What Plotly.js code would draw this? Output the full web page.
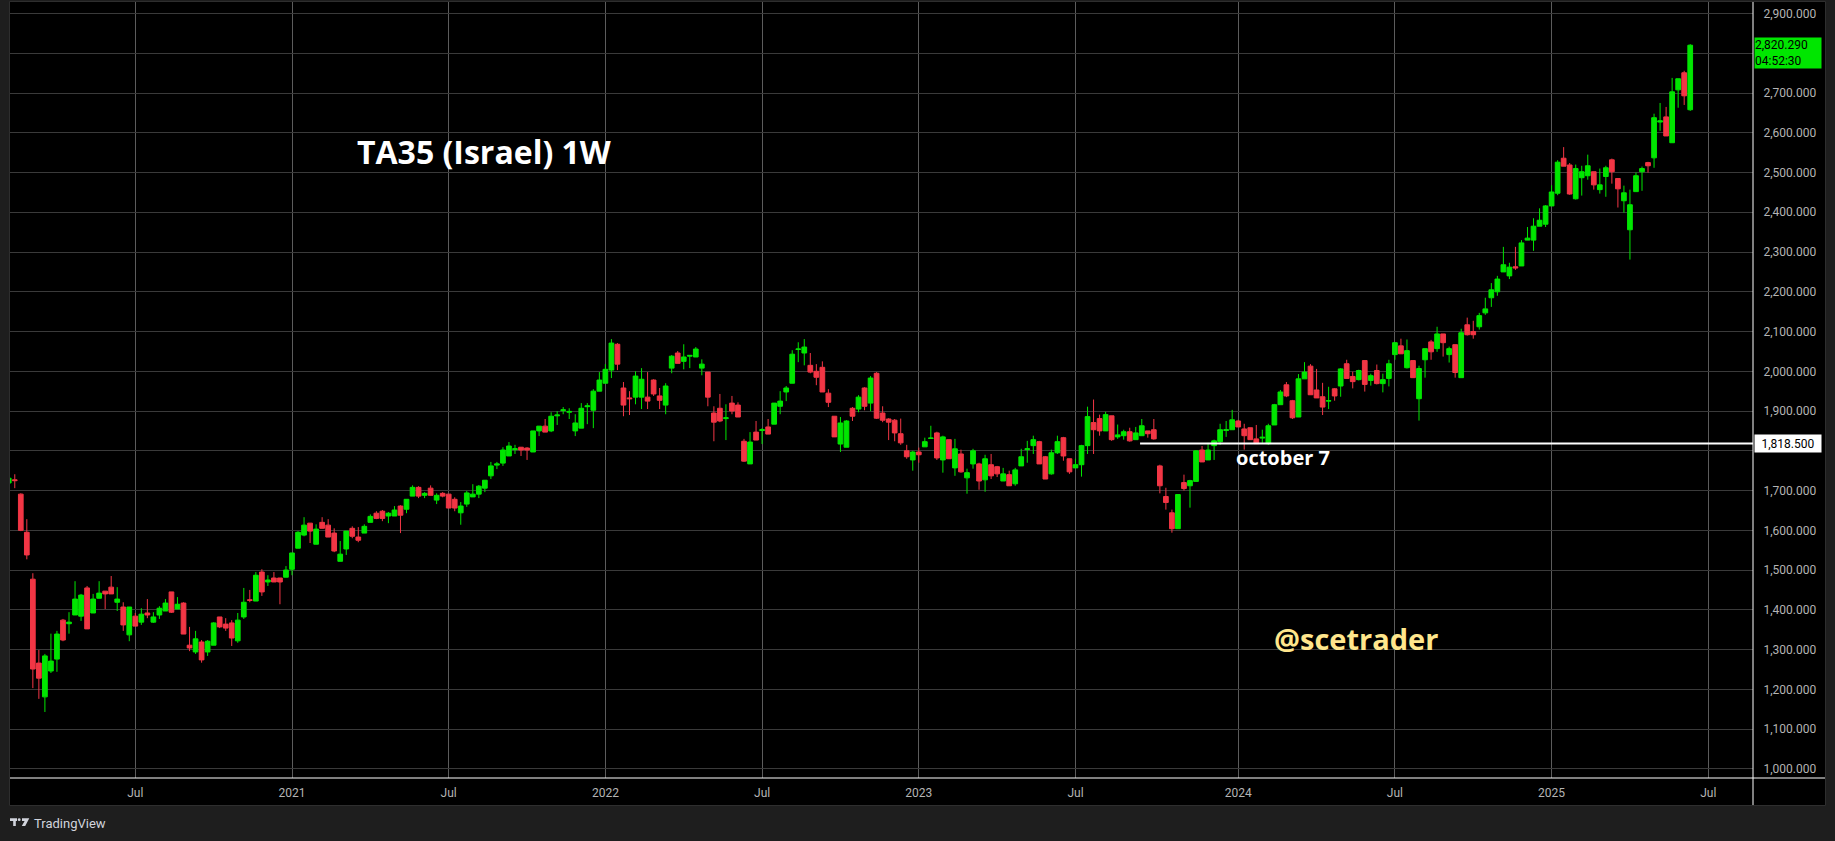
<!DOCTYPE html>
<html><head><meta charset="utf-8">
<script src="https://cdn.plot.ly/plotly-3.0.1.min.js"></script>
<style>html,body{margin:0;padding:0;background:#000;overflow:hidden}#chart{width:1835px;height:841px}</style>
</head><body><div id="chart"></div>
<script>
// Weekly bars (TASE weeks, dated on Sunday)
const weeks2020 = ['2020-02-09','2020-02-16','2020-02-23','2020-03-01','2020-03-08','2020-03-15','2020-03-22','2020-03-29','2020-04-05','2020-04-12','2020-04-19','2020-04-26','2020-05-03','2020-05-10','2020-05-17','2020-05-24','2020-05-31','2020-06-07','2020-06-14','2020-06-21','2020-06-28','2020-07-05','2020-07-12','2020-07-19','2020-07-26','2020-08-02','2020-08-09','2020-08-16','2020-08-23','2020-08-30','2020-09-06','2020-09-13','2020-09-20','2020-09-27','2020-10-04','2020-10-11','2020-10-18','2020-10-25','2020-11-01','2020-11-08','2020-11-15','2020-11-22','2020-11-29','2020-12-06','2020-12-13','2020-12-20','2020-12-27'];
const weeks2021 = ['2021-01-03','2021-01-10','2021-01-17','2021-01-24','2021-01-31','2021-02-07','2021-02-14','2021-02-21','2021-02-28','2021-03-07','2021-03-14','2021-03-21','2021-03-28','2021-04-04','2021-04-11','2021-04-18','2021-04-25','2021-05-02','2021-05-09','2021-05-16','2021-05-23','2021-05-30','2021-06-06','2021-06-13','2021-06-20','2021-06-27','2021-07-04','2021-07-11','2021-07-18','2021-07-25','2021-08-01','2021-08-08','2021-08-15','2021-08-22','2021-08-29','2021-09-05','2021-09-12','2021-09-19','2021-09-26','2021-10-03','2021-10-10','2021-10-17','2021-10-24','2021-10-31','2021-11-07','2021-11-14','2021-11-21','2021-11-28','2021-12-05','2021-12-12','2021-12-19','2021-12-26'];
const weeks2022 = ['2022-01-02','2022-01-09','2022-01-16','2022-01-23','2022-01-30','2022-02-06','2022-02-13','2022-02-20','2022-02-27','2022-03-06','2022-03-13','2022-03-20','2022-03-27','2022-04-03','2022-04-10','2022-04-17','2022-04-24','2022-05-01','2022-05-08','2022-05-15','2022-05-22','2022-05-29','2022-06-05','2022-06-12','2022-06-19','2022-06-26','2022-07-03','2022-07-10','2022-07-17','2022-07-24','2022-07-31','2022-08-07','2022-08-14','2022-08-21','2022-08-28','2022-09-04','2022-09-11','2022-09-18','2022-09-25','2022-10-02','2022-10-09','2022-10-16','2022-10-23','2022-10-30','2022-11-06','2022-11-13','2022-11-20','2022-11-27','2022-12-04','2022-12-11','2022-12-18','2022-12-25'];
const weeks2023 = ['2023-01-01','2023-01-08','2023-01-15','2023-01-22','2023-01-29','2023-02-05','2023-02-12','2023-02-19','2023-02-26','2023-03-05','2023-03-12','2023-03-19','2023-03-26','2023-04-02','2023-04-09','2023-04-16','2023-04-23','2023-04-30','2023-05-07','2023-05-14','2023-05-21','2023-05-28','2023-06-04','2023-06-11','2023-06-18','2023-06-25','2023-07-02','2023-07-09','2023-07-16','2023-07-23','2023-07-30','2023-08-06','2023-08-13','2023-08-20','2023-08-27','2023-09-03','2023-09-10','2023-09-17','2023-09-24','2023-10-01','2023-10-08','2023-10-15','2023-10-22','2023-10-29','2023-11-05','2023-11-12','2023-11-19','2023-11-26','2023-12-03','2023-12-10','2023-12-17','2023-12-24','2023-12-31'];
const weeks2024 = ['2024-01-07','2024-01-14','2024-01-21','2024-01-28','2024-02-04','2024-02-11','2024-02-18','2024-02-25','2024-03-03','2024-03-10','2024-03-17','2024-03-24','2024-03-31','2024-04-07','2024-04-14','2024-04-21','2024-04-28','2024-05-05','2024-05-12','2024-05-19','2024-05-26','2024-06-02','2024-06-09','2024-06-16','2024-06-23','2024-06-30','2024-07-07','2024-07-14','2024-07-21','2024-07-28','2024-08-04','2024-08-11','2024-08-18','2024-08-25','2024-09-01','2024-09-08','2024-09-15','2024-09-22','2024-09-29','2024-10-06','2024-10-13','2024-10-20','2024-10-27','2024-11-03','2024-11-10','2024-11-17','2024-11-24','2024-12-01','2024-12-08','2024-12-15','2024-12-22','2024-12-29'];
const weeks2025 = ['2025-01-05','2025-01-12','2025-01-19','2025-01-26','2025-02-02','2025-02-09','2025-02-16','2025-02-23','2025-03-02','2025-03-09','2025-03-16','2025-03-23','2025-03-30','2025-04-06','2025-04-13','2025-04-20','2025-04-27','2025-05-04','2025-05-11','2025-05-18','2025-05-25','2025-06-01','2025-06-08','2025-06-15'];

const openP = [
1719,1727,1691,1595,1477,1266,1181,1246,1276,1374,
1365,1387,1384,1455,1392,1429,1447,1457,1419,1407,
1337,1384,1369,1392,1369,1387,1397,1445,1402,1417,
1311,1294,1319,1294,1311,1382,1364,1367,1322,1382,
1425,1422,1495,1470,1480,1480,1482,1502,1555,1588,
1618,1565,1620,1613,1593,1522,1553,1605,1583,1593,
1620,1643,1648,1636,1636,1661,1653,1686,1708,1688,
1706,1676,1693,1691,1678,1644,1666,1684,1691,1706,
1737,1764,1769,1787,1803,1809,1807,1797,1850,1862,
1850,1888,1901,1897,1850,1857,1911,1902,1950,1970,
2003,2068,1958,1933,1935,1935,1935,1978,1938,1915,
2008,2046,2025,2038,2036,2008,1998,1895,1907,1881,
1920,1915,1824,1767,1847,1851,1860,1867,1912,1948,
1970,2055,2046,2015,2000,2010,1945,1887,1817,1809,
1907,1905,1958,1920,1995,1895,1880,1877,1843,1800,
1777,1797,1810,1831,1845,1777,1828,1757,1792,1732,
1767,1767,1727,1765,1760,1724,1740,1717,1762,1803,
1813,1823,1785,1742,1795,1833,1780,1757,1765,1813,
1871,1881,1850,1888,1835,1838,1848,1828,1838,1850,
1853,1762,1685,1644,1604,1720,1712,1723,1802,1777,
1813,1823,1851,1853,1875,1855,1858,1830,1832,1818,
1865,1916,1966,1926,1885,1981,2013,1953,1936,1925,
1956,1963,2019,1987,1979,2027,1977,2002,1969,1982,
2042,2064,2009,2027,1931,2029,2074,2057,2094,2042,
2067,1984,2117,2100,2112,2147,2185,2200,2250,2240,
2263,2265,2330,2330,2365,2370,2416,2448,2536,2519,
2434,2487,2492,2502,2457,2490,2532,2485,2429,2356,
2452,2502,2525,2537,2627,2640,2575,2708,2751,2658];

const highP = [
1735,1741,1693,1628,1492,1299,1289,1340,1347,1377,
1394,1472,1440,1460,1440,1472,1447,1485,1457,1419,
1407,1392,1404,1427,1394,1409,1427,1445,1432,1419,
1357,1347,1324,1324,1369,1382,1379,1374,1392,1455,
1450,1495,1502,1487,1495,1480,1510,1543,1598,1633,
1618,1615,1633,1628,1605,1573,1598,1610,1608,1615,
1640,1648,1651,1646,1661,1663,1678,1713,1711,1696,
1713,1693,1696,1691,1683,1671,1699,1716,1714,1726,
1772,1772,1809,1822,1815,1809,1809,1850,1862,1880,
1897,1900,1910,1907,1892,1920,1920,1955,1998,2018,
2081,2071,1973,1950,2000,2008,1998,1980,1958,1970,
2041,2051,2068,2040,2061,2030,1998,1912,1943,1917,
1938,1922,1830,1847,1875,1857,1880,1920,1950,1963,
2053,2073,2081,2046,2018,2025,1955,1887,1885,1877,
1910,1940,1960,1988,1998,1912,1882,1880,1881,1815,
1800,1808,1833,1863,1848,1838,1828,1830,1803,1755,
1805,1770,1790,1792,1762,1757,1750,1757,1805,1825,
1838,1825,1787,1803,1838,1835,1780,1780,1815,1911,
1929,1891,1898,1888,1866,1853,1858,1860,1880,1850,
1880,1765,1707,1652,1690,1740,1727,1802,1812,1820,
1828,1868,1875,1903,1878,1868,1858,1865,1853,1868,
1918,1953,1973,1928,1993,2023,2018,2006,1971,1961,
1958,2008,2029,1999,2004,2027,1994,2017,1994,2029,
2072,2082,2080,2027,2014,2057,2079,2112,2094,2062,
2067,2107,2135,2127,2147,2185,2222,2240,2313,2273,
2313,2330,2363,2385,2410,2418,2468,2531,2564,2524,
2520,2517,2545,2502,2510,2517,2535,2485,2467,2457,
2500,2515,2527,2648,2675,2665,2738,2736,2756,2823];

const lowP = [
1715,1706,1598,1527,1203,1176,1143,1241,1244,1321,
1340,1387,1372,1352,1392,1429,1402,1440,1397,1347,
1321,1359,1362,1379,1367,1377,1397,1392,1402,1339,
1296,1289,1267,1284,1311,1354,1347,1309,1317,1377,
1419,1422,1435,1460,1470,1414,1482,1487,1555,1585,
1568,1565,1605,1583,1545,1522,1538,1580,1570,1593,
1620,1628,1623,1618,1636,1593,1643,1686,1681,1681,
1688,1666,1683,1656,1648,1614,1659,1684,1681,1696,
1729,1754,1762,1787,1792,1787,1777,1797,1837,1847,
1847,1865,1892,1880,1837,1857,1867,1857,1950,1970,
1983,2003,1887,1890,1917,1905,1905,1938,1905,1892,
1995,2020,2005,2008,2036,1990,1912,1824,1872,1827,
1892,1885,1772,1767,1827,1817,1842,1867,1892,1925,
1970,2023,2015,1995,1965,1948,1910,1835,1797,1809,
1875,1897,1902,1900,1880,1872,1827,1824,1815,1780,
1750,1770,1810,1830,1777,1745,1780,1737,1745,1692,
1755,1702,1697,1729,1734,1724,1712,1712,1762,1770,
1792,1767,1729,1740,1792,1775,1742,1757,1735,1792,
1792,1838,1850,1825,1830,1828,1823,1828,1838,1833,
1828,1693,1652,1594,1604,1700,1657,1723,1772,1777,
1777,1815,1835,1853,1860,1803,1828,1818,1820,1815,
1865,1916,1935,1880,1885,1981,1941,1933,1890,1905,
1926,1936,1982,1957,1977,1949,1964,1967,1947,1962,
2029,2044,2007,1984,1876,1984,2029,2049,2037,2022,
1984,1984,2090,2082,2105,2142,2162,2190,2250,2232,
2255,2265,2330,2303,2365,2363,2416,2443,2516,2444,
2432,2442,2482,2457,2447,2439,2472,2412,2399,2281,
2452,2454,2500,2512,2605,2592,2575,2663,2670,2655];

const closeP = [
1731,1725,1600,1538,1251,1228,1284,1271,1339,1324,
1369,1427,1437,1352,1427,1442,1440,1440,1427,1362,
1407,1359,1389,1387,1382,1404,1417,1394,1414,1339,
1304,1327,1274,1321,1367,1357,1354,1329,1374,1419,
1424,1487,1445,1475,1470,1470,1500,1543,1595,1613,
1598,1603,1605,1583,1548,1540,1598,1585,1575,1610,
1635,1630,1630,1643,1651,1638,1678,1708,1686,1693,
1688,1688,1686,1656,1656,1661,1694,1691,1711,1726,
1762,1767,1802,1812,1805,1802,1802,1850,1862,1847,
1887,1890,1903,1899,1870,1907,1913,1950,1978,2005,
2071,2018,1915,1931,1988,1980,1925,1943,1927,1963,
2038,2020,2036,2040,2056,2018,1935,1872,1875,1883,
1900,1885,1774,1822,1827,1853,1842,1920,1925,1958,
2043,2056,2061,1998,1985,1948,1922,1835,1870,1875,
1887,1935,1912,1983,1882,1877,1872,1845,1820,1785,
1797,1790,1823,1832,1782,1835,1780,1805,1747,1745,
1800,1724,1780,1737,1742,1742,1712,1752,1785,1805,
1828,1767,1729,1795,1823,1787,1747,1765,1813,1886,
1853,1850,1891,1828,1840,1848,1825,1845,1863,1843,
1830,1712,1670,1604,1690,1705,1725,1800,1772,1802,
1825,1853,1853,1878,1860,1838,1828,1818,1834,1863,
1916,1948,1938,1883,1981,1998,1941,1933,1910,1926,
1938,2006,1982,1974,2002,1967,1989,1969,1979,2019,
2072,2044,2052,1984,2007,2057,2049,2094,2072,2057,
1997,2097,2092,2092,2140,2157,2205,2232,2268,2262,
2260,2323,2335,2365,2380,2416,2451,2526,2516,2446,
2510,2502,2517,2469,2469,2512,2502,2459,2449,2419,
2492,2510,2517,2638,2630,2592,2703,2736,2693,2820.29];

const timeTickVals = ['2020-07-05','2021-01-03','2021-07-04','2022-01-02','2022-07-03','2023-01-01','2023-07-02','2024-01-07','2024-07-07','2025-01-05','2025-07-06'];
const timeTickText = ['Jul','2021','Jul','2022','Jul','2023','Jul','2024','Jul','2025','Jul'];
// price scale labels (2,800 sits under the live-price badge, 1,800 under the level badge)
const priceTicks = [1000,1100,1200,1300,1400,1500,1600,1700,1800,1900,2000,2100,2200,2300,2400,2500,2600,2700,2800,2900];
const priceTickText = ['1,000.000','1,100.000','1,200.000','1,300.000','1,400.000','1,500.000','1,600.000','1,700.000','','1,900.000','2,000.000','2,100.000','2,200.000','2,300.000','2,400.000','2,500.000','2,600.000','2,700.000','','2,900.000'];

const levelValue = 1818.5;
const levelStart = '2023-09-15';
const levelText = '1,818.500';
const lastPriceText = '2,820.290';
const countdownText = '04:52:30';
const chartTitle = 'TA35 (Israel) 1W';
const eventText = 'october 7';
const authorText = '@scetrader';

// ---- layout geometry ----
const W = 1835, H = 841;
const M = {l:10, r:82, t:2, b:63};
const PW = W - M.l - M.r, PH = H - M.t - M.b;
const px = x => (x - M.l) / PW;
const py = y => 1 - (y - M.t) / PH;
const xRange = ['2020-02-10 11:07', '2025-08-26 22:05'];
const yRange = [976.9, 2929];

const RED = '#f23645', GREEN = '#00e600';
const weeks = weeks2020.concat(weeks2021, weeks2022, weeks2023, weeks2024, weeks2025);

const trace = {
  type: 'candlestick', x: weeks, open: openP, high: highP, low: lowP, close: closeP,
  increasing: {line: {color: GREEN, width: 1}, fillcolor: GREEN},
  decreasing: {line: {color: RED, width: 1}, fillcolor: RED},
  whiskerwidth: 0, hoverinfo: 'skip', showlegend: false
};

function rectPx(x0, y0, x1, y1, color) {
  return {type:'rect', xref:'paper', yref:'paper', x0:px(x0), x1:px(x1), y0:py(y0), y1:py(y1),
          fillcolor:color, line:{width:0}, layer:'below'};
}
function pathPx(pts, color) {
  const d = pts.map((p, i) => (i ? 'L' : 'M') + px(p[0]) + ',' + py(p[1])).join(' ') + ' Z';
  return {type:'path', xref:'paper', yref:'paper', path:d, fillcolor:color, line:{width:0}, layer:'above'};
}

const FRAME = '#1e1e1e';
const shapes = [
  rectPx(0, 0, 1835, 1.5, FRAME),
  rectPx(0, 806, 1835, 841, FRAME),
  rectPx(0, 0, 9.5, 841, FRAME),
  rectPx(1825.5, 0, 1835, 841, FRAME),
  {type:'rect', xref:'paper', yref:'paper', x0:px(9.5), x1:px(1825.5), y0:py(1.5), y1:py(805.5),
   line:{color:'#2e2e2e', width:1}, fillcolor:'rgba(0,0,0,0)', layer:'below'},
  {type:'line', xref:'paper', yref:'paper', x0:px(10), x1:px(1825), y0:0, y1:0,
   line:{color:'#ffffff', width:1}, layer:'above'},
  {type:'line', xref:'paper', yref:'paper', x0:1, x1:1, y0:1, y1:py(805),
   line:{color:'#ffffff', width:1}, layer:'above'},
  {type:'line', xref:'x', yref:'y', x0:levelStart, x1:xRange[1], y0:levelValue, y1:levelValue,
   line:{color:'#ffffff', width:2}, layer:'above'},
  // TradingView logo
  pathPx([[10,818.3],[17,818.3],[17,821],[15.8,821],[15.8,826],[13.2,826],[13.2,821],[10,821]], '#d1d4dc'),
  {type:'circle', xref:'paper', yref:'paper', x0:px(17.8), x1:px(20.6), y0:py(818.3), y1:py(821.1),
   fillcolor:'#d1d4dc', line:{width:0}, layer:'above'},
  pathPx([[22,818.3],[29.3,818.3],[25.2,826],[21.8,826],[24.6,821],[22,821]], '#d1d4dc')
];

const annotations = [
  {xref:'paper', yref:'paper', x:px(355), y:py(152), xanchor:'left', yanchor:'middle', showarrow:false,
   text:chartTitle, font:{family:'Open Sans', size:32, color:'#ffffff', weight:700}},
  {xref:'paper', yref:'paper', x:px(1272), y:py(638), xanchor:'left', yanchor:'middle', showarrow:false,
   text:authorText, font:{family:'Open Sans', size:29, color:'#ffe68c', weight:700}},
  {xref:'paper', yref:'paper', x:px(1234), y:py(457), xanchor:'left', yanchor:'middle', showarrow:false,
   text:eventText, font:{family:'Open Sans', size:20, color:'#ffffff', weight:700}},
  {xref:'paper', yref:'y', x:px(1754), y:levelValue, xanchor:'left', yanchor:'middle', showarrow:false,
   text:levelText, bgcolor:'#ffffff', width:66, height:17, borderpad:0,
   font:{family:'Roboto', size:12, color:'#000000'}},
  {xref:'paper', yref:'paper', x:px(1754), y:py(37), xanchor:'left', yanchor:'top', showarrow:false,
   text:lastPriceText + '<br>' + countdownText, bgcolor:GREEN, width:66, height:30, borderpad:0,
   align:'left', font:{family:'Roboto', size:12, color:'#000000'}},
  {xref:'paper', yref:'paper', x:px(32), y:py(823), xanchor:'left', yanchor:'middle', showarrow:false,
   text:'TradingView', font:{family:'Roboto', size:13, color:'#d1d4dc'}}
];

const layout = {
  width: W, height: H, margin: {l:M.l, r:M.r, t:M.t, b:M.b, pad:0},
  paper_bgcolor: '#000000', plot_bgcolor: '#000000', showlegend: false,
  boxgap: 0.22, boxgroupgap: 0,
  xaxis: {type:'date', range:xRange, rangeslider:{visible:false}, tickmode:'array',
    tickvals:timeTickVals, ticktext:timeTickText, showgrid:true, gridcolor:'#5c5c5c', gridwidth:1,
    ticks:'outside', ticklen:4, tickcolor:'rgba(0,0,0,0)', showline:false, zeroline:false,
    tickfont:{family:'Roboto', size:12, color:'#b4b4b4'}, fixedrange:true},
  yaxis: {side:'right', range:yRange, tickmode:'array', tickvals:priceTicks, ticktext:priceTickText,
    showgrid:true, gridcolor:'#3a3a3a', gridwidth:1, ticks:'outside', ticklen:7,
    tickcolor:'rgba(0,0,0,0)', showline:false, zeroline:false,
    tickfont:{family:'Roboto', size:12, color:'#b4b4b4'}, fixedrange:true},
  shapes: shapes, annotations: annotations
};

Plotly.newPlot('chart', [trace], layout, {staticPlot:true, displayModeBar:false});
</script>
</body></html>
